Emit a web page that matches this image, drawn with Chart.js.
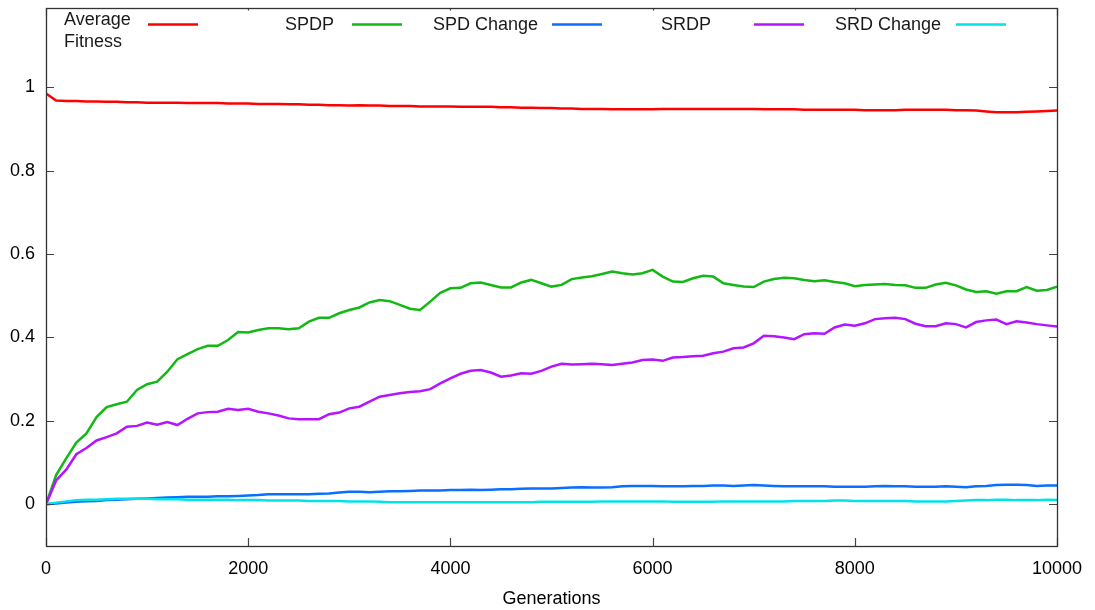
<!DOCTYPE html>
<html>
<head>
<meta charset="utf-8">
<script src="https://cdn.jsdelivr.net/npm/chart.js@4.4.1/dist/chart.umd.min.js"></script>
<style>
  html, body { margin: 0; padding: 0; background: #ffffff; }
  #wrap { width: 1095px; height: 610px; }
</style>
</head>
<body>
<div id="wrap"><canvas id="c" width="1095" height="610"></canvas></div>
<script>
// Generations sampled every 100 steps, 0 .. 10000
const generations = [];
for (let g = 0; g <= 10000; g += 100) generations.push(g);

const averageFitness = [
  0.985, 0.968, 0.967, 0.967, 0.966, 0.966, 0.965, 0.965, 0.964, 0.964,
  0.963, 0.963, 0.963, 0.963, 0.962, 0.962, 0.962, 0.962, 0.961, 0.961,
  0.961, 0.960, 0.960, 0.960, 0.959, 0.959, 0.958, 0.958, 0.957, 0.957,
  0.956, 0.957, 0.956, 0.956, 0.955, 0.955, 0.955, 0.954, 0.954, 0.954,
  0.954, 0.953, 0.953, 0.953, 0.953, 0.952, 0.952, 0.951, 0.951, 0.950,
  0.950, 0.949, 0.949, 0.948, 0.948, 0.948, 0.947, 0.947, 0.947, 0.947,
  0.947, 0.948, 0.948, 0.948, 0.948, 0.948, 0.948, 0.948, 0.948, 0.948,
  0.948, 0.947, 0.947, 0.947, 0.947, 0.946, 0.946, 0.946, 0.946, 0.946,
  0.946, 0.945, 0.945, 0.945, 0.945, 0.946, 0.946, 0.946, 0.946, 0.946,
  0.945, 0.945, 0.944, 0.942, 0.940, 0.940, 0.940, 0.941, 0.942, 0.943,
  0.944
];

const spdp = [
  0.000, 0.070, 0.110, 0.148, 0.170, 0.209, 0.233, 0.240, 0.246, 0.274,
  0.288, 0.294, 0.318, 0.348, 0.360, 0.372, 0.380, 0.380, 0.394, 0.413,
  0.412, 0.418, 0.422, 0.422, 0.420, 0.422, 0.438, 0.447, 0.447, 0.458,
  0.466, 0.472, 0.484, 0.490, 0.487, 0.478, 0.469, 0.466, 0.486, 0.507,
  0.518, 0.519, 0.530, 0.532, 0.526, 0.520, 0.520, 0.532, 0.538, 0.530,
  0.522, 0.526, 0.540, 0.544, 0.547, 0.552, 0.558, 0.554, 0.551, 0.554,
  0.562, 0.546, 0.534, 0.533, 0.542, 0.548, 0.546, 0.530, 0.526, 0.522,
  0.521, 0.534, 0.540, 0.543, 0.542, 0.538, 0.535, 0.537, 0.533, 0.530,
  0.523, 0.526, 0.527, 0.528, 0.526, 0.525, 0.519, 0.519, 0.527, 0.531,
  0.525, 0.515, 0.509, 0.511, 0.505, 0.511, 0.511, 0.521, 0.512, 0.514,
  0.522
];

const spdChange = [
  0.000, 0.002, 0.004, 0.006, 0.007, 0.008, 0.010, 0.011, 0.012, 0.013,
  0.014, 0.015, 0.016, 0.017, 0.018, 0.018, 0.018, 0.019, 0.019, 0.020,
  0.021, 0.022, 0.024, 0.024, 0.024, 0.024, 0.024, 0.025, 0.026, 0.028,
  0.030, 0.030, 0.029, 0.030, 0.031, 0.031, 0.032, 0.033, 0.033, 0.033,
  0.034, 0.034, 0.035, 0.034, 0.035, 0.036, 0.036, 0.037, 0.038, 0.038,
  0.038, 0.039, 0.040, 0.041, 0.040, 0.040, 0.041, 0.043, 0.044, 0.044,
  0.044, 0.043, 0.043, 0.043, 0.044, 0.044, 0.045, 0.045, 0.044, 0.045,
  0.046, 0.045, 0.044, 0.043, 0.043, 0.043, 0.043, 0.043, 0.042, 0.042,
  0.042, 0.042, 0.043, 0.044, 0.043, 0.043, 0.042, 0.042, 0.042, 0.043,
  0.042, 0.041, 0.043, 0.044, 0.046, 0.047, 0.047, 0.046, 0.044, 0.045,
  0.045
];

const srdp = [
  0.000, 0.057, 0.083, 0.120, 0.135, 0.153, 0.161, 0.170, 0.186, 0.188,
  0.196, 0.191, 0.197, 0.190, 0.205, 0.218, 0.221, 0.222, 0.229, 0.226,
  0.229, 0.222, 0.218, 0.213, 0.206, 0.204, 0.204, 0.204, 0.216, 0.220,
  0.230, 0.234, 0.246, 0.258, 0.262, 0.266, 0.269, 0.271, 0.276, 0.290,
  0.302, 0.313, 0.320, 0.322, 0.316, 0.306, 0.309, 0.314, 0.313, 0.320,
  0.330, 0.337, 0.335, 0.336, 0.337, 0.336, 0.334, 0.337, 0.340, 0.346,
  0.347, 0.344, 0.352, 0.353, 0.355, 0.356, 0.362, 0.366, 0.374, 0.376,
  0.386, 0.404, 0.403, 0.400, 0.396, 0.408, 0.410, 0.409, 0.424, 0.431,
  0.428, 0.434, 0.444, 0.446, 0.447, 0.444, 0.433, 0.427, 0.427, 0.434,
  0.432, 0.424, 0.437, 0.441, 0.443, 0.432, 0.439, 0.436, 0.432, 0.429,
  0.426
];

const srdChange = [
  0.000, 0.004, 0.007, 0.010, 0.011, 0.011, 0.012, 0.013, 0.013, 0.013,
  0.013, 0.012, 0.012, 0.012, 0.011, 0.011, 0.011, 0.011, 0.011, 0.010,
  0.010, 0.010, 0.009, 0.009, 0.009, 0.009, 0.008, 0.008, 0.008, 0.008,
  0.007, 0.007, 0.007, 0.006, 0.005, 0.005, 0.005, 0.005, 0.005, 0.005,
  0.005, 0.005, 0.005, 0.005, 0.005, 0.005, 0.005, 0.005, 0.005, 0.006,
  0.006, 0.006, 0.006, 0.006, 0.006, 0.007, 0.007, 0.007, 0.007, 0.007,
  0.007, 0.007, 0.006, 0.006, 0.006, 0.006, 0.006, 0.007, 0.007, 0.007,
  0.007, 0.007, 0.007, 0.007, 0.008, 0.008, 0.008, 0.008, 0.009, 0.009,
  0.008, 0.008, 0.008, 0.008, 0.008, 0.008, 0.007, 0.007, 0.007, 0.007,
  0.008, 0.009, 0.010, 0.010, 0.011, 0.011, 0.010, 0.010, 0.010, 0.011,
  0.010
];

const yTickValues = [0, 0.2, 0.4, 0.6, 0.8, 1];
const xTickValues = [0, 2000, 4000, 6000, 8000, 10000];

const seriesNames = [['Average', 'Fitness'], ['SPDP'], ['SPD Change'], ['SRDP'], ['SRD Change']];
const seriesColors = ['#ff0000', '#14b814', '#0a6eff', '#b414ff', '#00e2ec'];
const seriesValues = [averageFitness, spdp, spdChange, srdp, srdChange];

const FONT = "'Liberation Sans', Arial, Helvetica, sans-serif";

// Inward tick marks on all four sides plus the frame around the plot
const framePlugin = {
  id: 'frame',
  afterDatasetsDraw(chart) {
    const { ctx, chartArea: a, scales } = chart;
    ctx.save();
    ctx.strokeStyle = '#444';
    ctx.lineWidth = 1.2;
    const tl = 8;
    yTickValues.forEach(v => {
      const y = Math.round(scales.y.getPixelForValue(v)) + 0.5;
      ctx.beginPath();
      ctx.moveTo(a.left, y); ctx.lineTo(a.left + tl, y);
      ctx.moveTo(a.right, y); ctx.lineTo(a.right - tl, y);
      ctx.stroke();
    });
    xTickValues.forEach(v => {
      const x = Math.round(scales.x.getPixelForValue(v)) + 0.5;
      ctx.beginPath();
      ctx.moveTo(x, a.bottom); ctx.lineTo(x, a.bottom - tl);
      ctx.moveTo(x, a.top); ctx.lineTo(x, a.top + tl);
      ctx.stroke();
    });
    ctx.restore();
  },
  afterDraw(chart) {
    const { ctx, chartArea: a } = chart;
    ctx.save();
    ctx.strokeStyle = '#333';
    ctx.lineWidth = 1.3;
    ctx.strokeRect(Math.round(a.left) + 0.5, Math.round(a.top) + 0.5,
                   Math.round(a.right - a.left), Math.round(a.bottom - a.top));
    ctx.restore();
  }
};

// Key across the top of the plot: label text followed by a line sample
const keyPlugin = {
  id: 'key',
  afterDatasetsDraw(chart) {
    const { ctx, chartArea: a } = chart;
    const o = chart.options.plugins.key;
    ctx.save();
    ctx.fillStyle = '#ffffff';
    ctx.fillRect(a.left + 1.5, a.top + 2.5, 1028 - a.left, 48);
    ctx.font = '18px ' + FONT;
    ctx.textBaseline = 'alphabetic';
    ctx.textAlign = 'left';
    o.entries.forEach((e, i) => {
      ctx.fillStyle = '#1a1a1a';
      const lines = seriesNames[i];
      const base = lines.length > 1 ? o.multiBase : o.singleBase;
      lines.forEach((t, k) => ctx.fillText(t, e.textX, base + k * o.lineGap));
      ctx.strokeStyle = seriesColors[i];
      ctx.lineWidth = 2.6;
      ctx.beginPath();
      ctx.moveTo(e.lineX, o.sampleY);
      ctx.lineTo(e.lineX + o.sampleLen, o.sampleY);
      ctx.stroke();
    });
    ctx.restore();
  }
};

const datasets = seriesValues.map((vals, i) => ({
  label: seriesNames[i].join(' '),
  data: generations.map((g, k) => ({ x: g, y: vals[k] })),
  borderColor: seriesColors[i],
  backgroundColor: seriesColors[i],
  borderWidth: 2.5,
  pointRadius: 0,
  tension: 0,
  fill: false,
  order: 5 - i
}));

new Chart(document.getElementById('c'), {
  type: 'line',
  data: { datasets },
  options: {
    responsive: false,
    animation: false,
    layout: { padding: { top: 8, right: 38, left: 0, bottom: 0 } },
    plugins: {
      legend: { display: false },
      tooltip: { enabled: false },
      key: {
        singleBase: 29.5,
        multiBase: 25,
        lineGap: 22,
        sampleY: 24.5,
        sampleLen: 50,
        entries: [
          { textX: 64, lineX: 148 },
          { textX: 285, lineX: 352 },
          { textX: 433, lineX: 552 },
          { textX: 661, lineX: 754 },
          { textX: 835, lineX: 956 }
        ]
      }
    },
    scales: {
      x: {
        type: 'linear',
        min: 0,
        max: 10000,
        afterBuildTicks: s => { s.ticks = xTickValues.map(v => ({ value: v })); },
        afterFit: s => { s.height = 64; s.paddingLeft = 0; s.paddingRight = 0; },
        grid: { display: false, drawTicks: false },
        border: { display: false },
        ticks: {
          color: '#000',
          font: { family: FONT, size: 18 },
          padding: 12,
          maxRotation: 0,
          callback: v => String(v)
        },
        title: {
          display: true,
          text: 'Generations',
          color: '#000',
          font: { family: FONT, size: 18 },
          padding: { top: -1, bottom: 0 }
        }
      },
      y: {
        type: 'linear',
        min: -0.1,
        max: 1.19,
        afterBuildTicks: s => { s.ticks = yTickValues.map(v => ({ value: v })); },
        afterFit: s => { s.width = 46; s.paddingTop = 0; s.paddingBottom = 0; },
        grid: { display: false, drawTicks: false },
        border: { display: false },
        ticks: {
          color: '#000',
          font: { family: FONT, size: 18 },
          padding: 11,
          callback: v => String(Math.round(v * 10) / 10)
        }
      }
    }
  },
  plugins: [framePlugin, keyPlugin]
});
</script>
</body>
</html>
